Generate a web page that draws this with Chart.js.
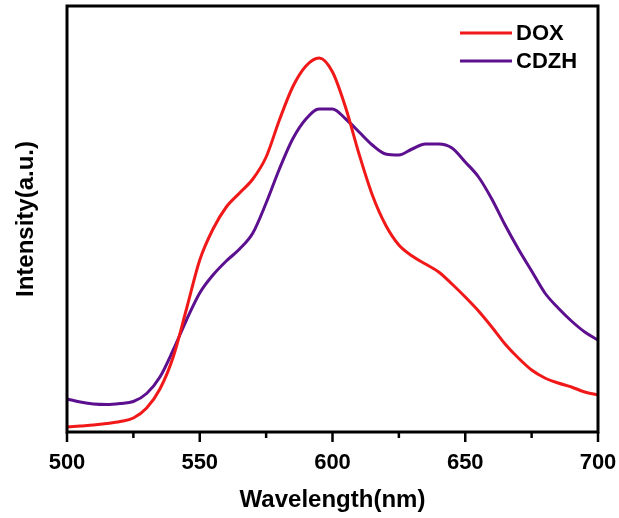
<!DOCTYPE html>
<html>
<head>
<meta charset="utf-8">
<script src="https://cdn.jsdelivr.net/npm/chart.js@4/dist/chart.umd.min.js"></script>
<style>
  html, body { margin: 0; padding: 0; background: #fff; }
  #wrap { width: 619px; height: 518px; }
</style>
</head>
<body>
<div id="wrap"><canvas id="plChart"></canvas></div>
<script>
// wavelength grid (nm)
const wavelengths = [500, 505, 510, 515, 520, 525, 530, 535, 540, 545, 550, 555, 560, 565, 570,
  575, 580, 585, 590, 595, 600, 605, 610, 615, 620, 625, 630, 635, 640, 645,
  650, 655, 660, 665, 670, 675, 680, 685, 690, 695, 700];

// intensities (a.u.)
const dox = [5, 6, 7, 8.5, 10.5, 14, 24, 43, 75, 123, 172, 203, 225, 239, 253,
  275, 312, 345, 366, 374, 360, 324, 278, 237, 207, 187, 176, 168, 160, 148,
  135, 121, 105, 88, 74, 62, 54, 49, 45, 40, 37];
const cdzh = [33, 30, 28, 27.5, 28.5, 30.5, 38.5, 55, 82, 112, 139, 157, 171, 183, 199,
  229, 263, 293, 313, 323, 323, 313, 300, 287, 278, 277, 283, 288, 288, 284,
  270, 255, 233, 207, 183, 161, 139, 124, 111, 100, 92];

const xTicks = [500, 550, 600, 650, 700];

const FONT = "'Liberation Sans', Arial, sans-serif";

function toPoints(ys) {
  return wavelengths.map((w, i) => ({ x: w, y: ys[i] }));
}

// frame round the plot, plus major/minor tick marks under the x axis
const framePlugin = {
  id: "frame",
  afterDraw(chart) {
    const { ctx, chartArea: a, scales } = chart;
    ctx.save();
    ctx.strokeStyle = "#000";
    ctx.lineWidth = 3;
    ctx.strokeRect(a.left, a.top, a.right - a.left, a.bottom - a.top);
    ctx.lineWidth = 2.5;
    scales.x.ticks.forEach(t => {
      const px = scales.x.getPixelForValue(t.value);
      const len = t.value % 50 === 0 ? 10 : 6;
      ctx.beginPath();
      ctx.moveTo(px, a.bottom);
      ctx.lineTo(px, a.bottom + len);
      ctx.stroke();
    });
    ctx.restore();
  }
};

// legend in the top right corner of the plot
const legendPlugin = {
  id: "cornerLegend",
  afterDraw(chart) {
    const { ctx } = chart;
    ctx.save();
    ctx.font = "bold 22px " + FONT;
    ctx.textBaseline = "middle";
    chart.data.datasets.forEach((ds, i) => {
      const y = 33 + i * 28;
      ctx.strokeStyle = ds.borderColor;
      ctx.lineWidth = 3;
      ctx.beginPath();
      ctx.moveTo(460, y);
      ctx.lineTo(512, y);
      ctx.stroke();
      ctx.fillStyle = "#000";
      ctx.fillText(ds.label, 516, y + 1);
    });
    ctx.restore();
  }
};

new Chart(document.getElementById("plChart"), {
  type: "line",
  data: {
    datasets: [
      { label: "DOX", data: toPoints(dox), borderColor: "#f01818", borderWidth: 3 },
      { label: "CDZH", data: toPoints(cdzh), borderColor: "#5c0f8e", borderWidth: 3 }
    ]
  },
  options: {
    responsive: true,
    maintainAspectRatio: false,
    animation: false,
    layout: { padding: { left: 0, right: 21, top: 6, bottom: 0 } },
    elements: {
      point: { radius: 0 },
      line: { cubicInterpolationMode: "monotone" }
    },
    plugins: {
      legend: { display: false },
      tooltip: { enabled: false }
    },
    scales: {
      x: {
        type: "linear",
        min: 500,
        max: 700,
        afterFit(s) { s.height = 86; s.paddingLeft = 0; s.paddingRight = 0; },
        grid: { display: false },
        border: { display: false },
        ticks: {
          stepSize: 25,
          autoSkip: false,
          maxRotation: 0,
          padding: 10,
          color: "#000",
          font: { family: FONT, size: 22, weight: "bold" },
          callback: v => (xTicks.includes(v) ? String(v) : "")
        },
        title: {
          display: true,
          text: "Wavelength(nm)",
          color: "#000",
          font: { family: FONT, size: 24, weight: "bold" },
          padding: { top: 0, bottom: 3 }
        }
      },
      y: {
        min: 0,
        max: 426,
        afterFit(s) { s.width = 67; },
        grid: { display: false },
        border: { display: false },
        ticks: { display: false },
        title: {
          display: true,
          text: "Intensity(a.u.)",
          color: "#000",
          font: { family: FONT, size: 24, weight: "bold" },
          padding: { top: 12, bottom: 0 }
        }
      }
    }
  },
  plugins: [framePlugin, legendPlugin]
});
</script>
</body>
</html>
